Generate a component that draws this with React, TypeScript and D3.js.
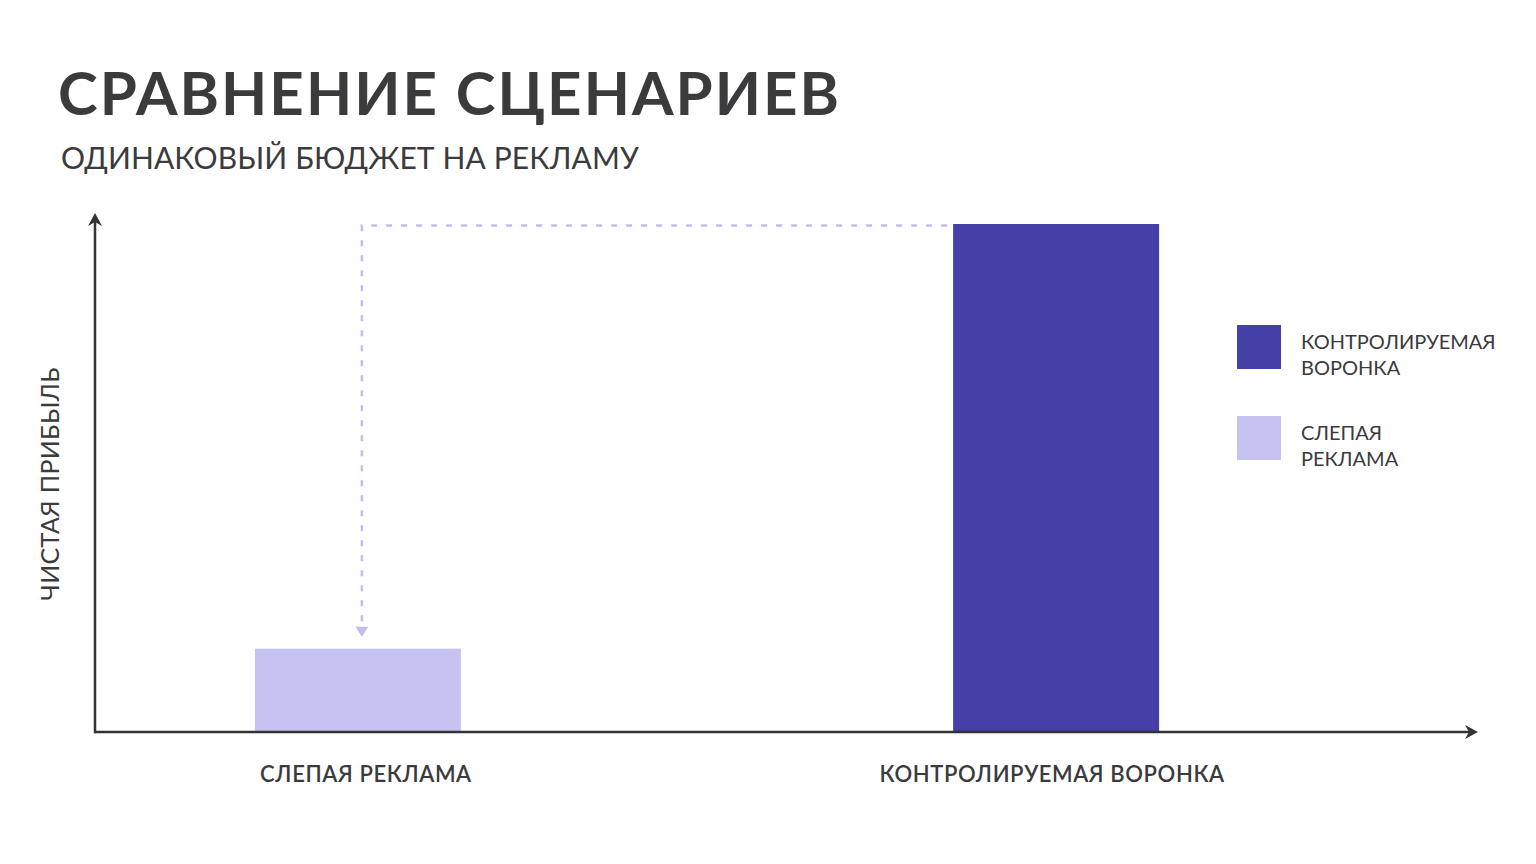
import React from "react";
import * as d3 from "d3";

const categories = ["СЛЕПАЯ РЕКЛАМА", "КОНТРОЛИРУЕМАЯ ВОРОНКА"];
const profitValues = [16.4, 100];
const barColors = ["#c6c2f1", "#4540a8"];
const legendLabels = [["КОНТРОЛИРУЕМАЯ", "ВОРОНКА"], ["СЛЕПАЯ", "РЕКЛАМА"]];
const legendColors = ["#4540a8", "#c6c2f1"];
const titleText = "СРАВНЕНИЕ СЦЕНАРИЕВ";
const subtitleText = "ОДИНАКОВЫЙ БЮДЖЕТ НА РЕКЛАМУ";
const yAxisLabel = "ЧИСТАЯ ПРИБЫЛЬ";

const W = 1536;
const H = 864;
const originX = 95;
const originY = 732;
const xAxisEnd = 1478;
const yAxisTop = 213;
const textColor = "#3b3b3d";
const axisColor = "#333336";
const font = "Lato, 'Open Sans', sans-serif";

export default function App() {
  const x = d3
    .scaleBand<string>()
    .domain(categories)
    .range([originX, 1319])
    .paddingInner(0.705)
    .paddingOuter(0.229);
  const y = d3.scaleLinear().domain([0, 100]).range([originY, 224]);

  const bw = x.bandwidth();
  const blindCenter = (x(categories[0]) as number) + bw / 2 + 4;
  const funnelLeft = x(categories[1]) as number;
  const dashY = y(profitValues[1]) + 1.5;
  const arrowTipY = y(profitValues[0]) - 12;

  return (
    <svg width={W} height={H} style={{ display: "block", position: "absolute", left: 0, top: 0 }}>
      <rect x={0} y={0} width={W} height={H} fill="#ffffff" />
      <text x={58} y={115} fontFamily={font} fontWeight={700} fontSize={60} fill={textColor} letterSpacing={2.05}>
        {titleText}
      </text>
      <text x={61} y={169} fontFamily={font} fontWeight={400} fontSize={30} fill={textColor} letterSpacing={0.12}>
        {subtitleText}
      </text>

      {/* bars */}
      {categories.map((c, i) => (
        <rect
          key={c}
          x={x(c) as number}
          y={y(profitValues[i])}
          width={bw}
          height={originY - y(profitValues[i])}
          fill={barColors[i]}
        />
      ))}

      {/* dashed connector */}
      <path
        d={`M${funnelLeft - 6},${dashY} H${blindCenter} V${arrowTipY - 8}`}
        fill="none"
        stroke="#c3bdee"
        strokeWidth={2.5}
        strokeDasharray="6 9"
      />
      <path
        d={`M${blindCenter - 6.5},${arrowTipY - 10} L${blindCenter + 6.5},${arrowTipY - 10} L${blindCenter},${arrowTipY} Z`}
        fill="#c3bdee"
      />

      {/* axes */}
      <line x1={originX} y1={originY} x2={xAxisEnd - 6} y2={originY} stroke={axisColor} strokeWidth={2.5} />
      <line x1={originX} y1={originY + 1.2} x2={originX} y2={yAxisTop + 6} stroke={axisColor} strokeWidth={2.5} />
      <path
        d={`M${xAxisEnd},${originY} L${xAxisEnd - 13},${originY - 7} L${xAxisEnd - 9},${originY} L${xAxisEnd - 13},${originY + 7} Z`}
        fill={axisColor}
      />
      <path
        d={`M${originX},${yAxisTop} L${originX - 7},${yAxisTop + 13} L${originX},${yAxisTop + 9} L${originX + 7},${yAxisTop + 13} Z`}
        fill={axisColor}
      />

      {/* y label */}
      <text
        transform={`translate(59,484) rotate(-90)`}
        textAnchor="middle"
        fontFamily={font}
        fontSize={25}
        fill={textColor}
        letterSpacing={0.3}
      >
        {yAxisLabel}
      </text>

      {/* category labels */}
      {categories.map((c) => (
        <text
          key={c}
          x={(x(c) as number) + bw / 2 + (c === categories[0] ? 8 : -4)}
          y={782}
          textAnchor="middle"
          fontFamily={font}
          fontWeight={600}
          fontSize={22}
          fill={textColor}
          letterSpacing={0.6}
        >
          {c}
        </text>
      ))}

      {/* legend */}
      {legendLabels.map((lines, i) => (
        <g key={i} transform={`translate(1237,${325 + i * 91})`}>
          <rect x={0} y={0} width={44} height={44} fill={legendColors[i]} />
          {lines.map((ln, j) => (
            <text
              key={j}
              x={64}
              y={24 + j * 26}
              fontFamily={font}
              fontSize={20}
              fill={textColor}
              letterSpacing={0}
            >
              {ln}
            </text>
          ))}
        </g>
      ))}
    </svg>
  );
}
